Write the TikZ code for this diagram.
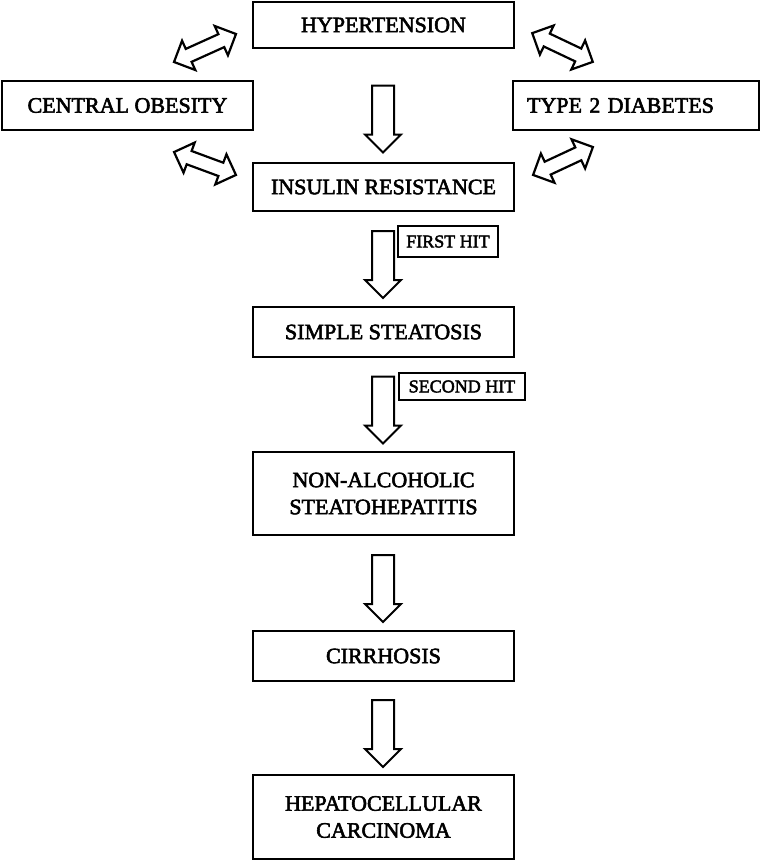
\documentclass[tikz,border=0pt]{standalone}
\usepackage{fontspec}
\setmainfont{Liberation Serif}
\newfontfamily\heavyserif[FakeBold=2.5]{Liberation Serif}
\usetikzlibrary{shapes.arrows,calc}
\tikzset{
  box/.style={draw=black, line width=2.6pt, fill=white, inner sep=0pt, align=center,
    font=\heavyserif\fontsize{22}{27}\selectfont},
  hitbox/.style={draw=black, line width=2.4pt, fill=white, inner sep=0pt,
    font=\heavyserif\fontsize{18}{20}\selectfont},
  downarrow/.style={draw=black, line width=2pt, fill=white, single arrow, rotate=-90,
    minimum height=67pt, minimum width=34pt, inner xsep=0pt, inner ysep=10pt,
    single arrow head extend=7pt, single arrow tip angle=90},
  dblarrow/.style={draw=black, line width=2.2pt, fill=white, double arrow,
    minimum width=30pt, inner xsep=0pt, inner ysep=6pt,
    double arrow head extend=9pt, double arrow tip angle=90},
}
\begin{document}
\begin{tikzpicture}[x=1pt,y=-1pt]
\useasboundingbox (0,0) rectangle (761,863);
% boxes
\node[box, minimum width=261pt, minimum height=46pt] (hyp)  at (383.5,25)    {HYPERTENSION};
\node[box, minimum width=251pt, minimum height=49pt] (obes) at (127.5,105.5) {CENTRAL OBESITY};
\node[box, minimum height=49pt, text width=218pt, inner xsep=14pt, align=left] (diab) at (636,105.5) {TYPE 2 DIABETES};
\node[box, minimum width=261pt, minimum height=48pt] (ins)  at (383.5,187)   {INSULIN RESISTANCE};
\node[box, minimum width=261pt, minimum height=50pt] (simp) at (383.5,332)   {SIMPLE STEATOSIS};
\node[box, minimum width=261pt, minimum height=83pt] (nash) at (383.5,493.5) {NON-ALCOHOLIC\\STEATOHEPATITIS};
\node[box, minimum width=261pt, minimum height=50pt] (cirr) at (383.5,656)   {CIRRHOSIS};
\node[box, minimum width=261pt, minimum height=84pt] (hcc)  at (383.5,817)   {HEPATOCELLULAR\\CARCINOMA};
\node[hitbox, minimum width=100pt, minimum height=31pt] (fh) at (448,241.5) {FIRST HIT};
\node[hitbox, minimum width=126pt, minimum height=27pt] (sh) at (462,386.5) {SECOND HIT};
% down arrows
\node[downarrow] (a1) at ($(hyp.south)!0.5!(ins.north)+(-0.5,8)$) {};
\node[downarrow] (a2) at ($(ins.south)!0.5!(simp.north)+(-0.5,0)$) {};
\node[downarrow] (a3) at ($(simp.south)!0.5!(nash.north)+(-0.5,0)$) {};
\node[downarrow] (a4) at ($(nash.south)!0.5!(cirr.north)+(-0.5,0)$) {};
\node[downarrow] (a5) at ($(cirr.south)!0.5!(hcc.north)+(-0.5,0)$) {};
% double arrows
\node[dblarrow, minimum height=68pt, rotate=24.3]  (d1) at (205,48)    {};
\node[dblarrow, minimum height=66pt, rotate=-20.3] (d2) at (205,163.5) {};
\node[dblarrow, minimum height=67pt, rotate=-25.4] (d3) at (562.5,47.5) {};
\node[dblarrow, minimum height=66pt, rotate=25]    (d4) at (563,161)   {};
\end{tikzpicture}
\end{document}
